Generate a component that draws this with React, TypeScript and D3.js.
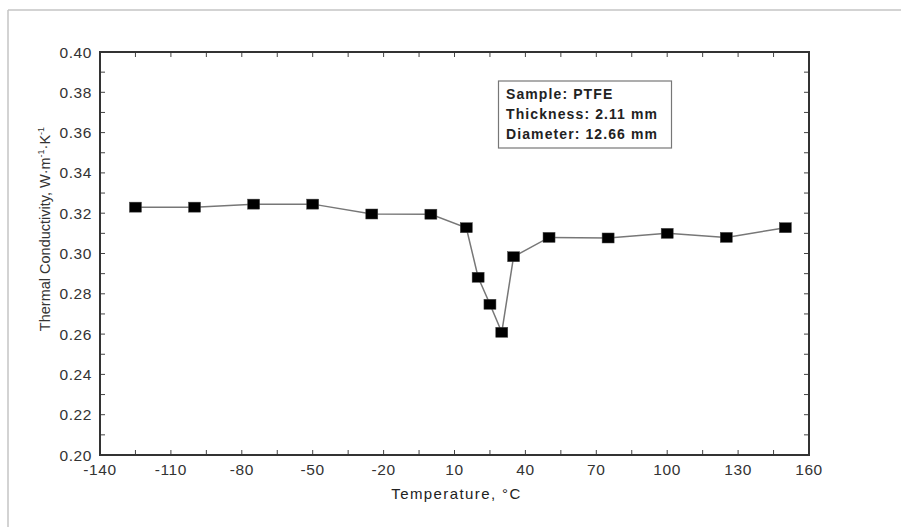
import React from "react";
import * as d3 from "d3";

const temperatures = [-125, -100, -75, -50, -25, 0, 15, 20, 25, 30, 35, 50, 75, 100, 125, 150];
const conductivity = [0.323, 0.323, 0.3245, 0.3245, 0.3196, 0.3195, 0.3128, 0.2882, 0.2748, 0.2609, 0.2984, 0.308, 0.3077, 0.3100, 0.308, 0.3128];
const xTickLabels = [-140, -110, -80, -50, -20, 10, 40, 70, 100, 130, 160];
const yTickLabels = [0.2, 0.22, 0.24, 0.26, 0.28, 0.3, 0.32, 0.34, 0.36, 0.38, 0.4];
const legendLines = ["Sample: PTFE", "Thickness: 2.11 mm", "Diameter: 12.66 mm"];

const W = 901, H = 527;
const L = 100, R = 809, T = 52, B = 455;

export default function App() {
  const x = d3.scaleLinear().domain([-140, 160]).range([L, R]);
  const y = d3.scaleLinear().domain([0.2, 0.4]).range([B, T]);
  const pts = temperatures.map((t, i) => [t, conductivity[i]] as [number, number]);
  const line = d3.line<[number, number]>().x(d => x(d[0])).y(d => y(d[1]));
  const xMinor = d3.range(-140, 160.01, 15);
  const yMinor = d3.range(0, 21).map(i => 0.2 + i * 0.01);
  const tl = 5;
  const font = "Arial, 'Liberation Sans', sans-serif";
  return (
    <svg width={W} height={H} style={{ position: "absolute", left: 0, top: 0 }} fontFamily={font}>
      <rect x={0} y={0} width={W} height={H} fill="#fff" />
      <line x1={8} y1={10} x2={W} y2={10} stroke="#c4c4c4" strokeWidth={1.5} />
      <line x1={8} y1={10} x2={8} y2={H} stroke="#c4c4c4" strokeWidth={1.5} />
      {xMinor.map((v, i) => (
        <g key={"xt" + i} stroke="#444" strokeWidth={1}>
          <line x1={x(v)} x2={x(v)} y1={B} y2={B - tl} />
          <line x1={x(v)} x2={x(v)} y1={T} y2={T + tl} />
        </g>
      ))}
      {yMinor.map((v, i) => (
        <g key={"yt" + i} stroke="#444" strokeWidth={1}>
          <line x1={L} x2={L + tl} y1={y(v)} y2={y(v)} />
          <line x1={R} x2={R - tl} y1={y(v)} y2={y(v)} />
        </g>
      ))}
      <rect x={L} y={T} width={R - L} height={B - T} fill="none" stroke="#333" strokeWidth={2} />
      {xTickLabels.map((v, i) => (
        <text key={"xl" + i} x={x(v)} y={475} textAnchor="middle" fontSize={15.5} letterSpacing={0.6} fill="#333">{v}</text>
      ))}
      {yTickLabels.map((v, i) => (
        <text key={"yl" + i} x={92} y={y(v) + 5.5} textAnchor="end" fontSize={15.5} letterSpacing={0.6} fill="#333">{v.toFixed(2)}</text>
      ))}
      <text x={(L + R) / 2 + 2} y={499} textAnchor="middle" fontSize={15} letterSpacing={1.4} fill="#222">Temperature, °C</text>
      <text transform={`translate(50,229) rotate(-90)`} textAnchor="middle" fontSize={14.5} fill="#333">
        Thermal Conductivity, W·m<tspan dy={-6} fontSize={9}>-1</tspan><tspan dy={6}>·K</tspan><tspan dy={-6} fontSize={9}>-1</tspan>
      </text>
      <path d={line(pts) || ""} fill="none" stroke="#777" strokeWidth={1.5} />
      {pts.map((p, i) => (
        <rect key={"m" + i} x={x(p[0]) - 6} y={y(p[1]) - 5} width={12} height={10} fill="#000" stroke="#444" strokeWidth={0.5} />
      ))}
      <rect x={498.5} y={81} width={173} height={67} fill="#fff" stroke="#777" strokeWidth={1.2} />
      {legendLines.map((s, i) => (
        <text key={"lg" + i} x={506} y={98.5 + i * 20} fontSize={14} fontWeight="bold" letterSpacing={1.1} fill="#222">{s}</text>
      ))}
    </svg>
  );
}
